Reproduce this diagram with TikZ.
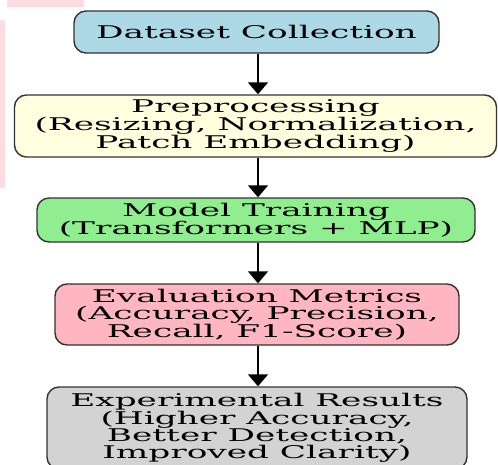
\documentclass[tikz,border=0pt]{standalone}
\usepackage{fontspec}
\usetikzlibrary{arrows.meta}
\newfontfamily\boxfont[FakeStretch=1.96]{DejaVu Serif}
\definecolor{bxblue}{HTML}{ADD8E6}
\definecolor{bxyellow}{HTML}{FFFFE0}
\definecolor{bxgreen}{HTML}{90EE90}
\definecolor{bxpink}{HTML}{FFB6C1}
\definecolor{bxgray}{HTML}{D3D3D3}
\definecolor{edgegray}{HTML}{333333}
\definecolor{smudge}{HTML}{FFDCE2}
\tikzset{
  stage/.style={draw=edgegray, line width=1.4pt, rounded corners=12pt,
    align=center, inner sep=0pt,
    font=\boxfont\fontsize{17.5}{16.8}\selectfont},
  flow/.style={line width=1.8pt, -{Triangle[width=20pt,length=12pt]}}
}
\begin{document}
\begin{tikzpicture}[x=1pt, y=-1pt]
  \useasboundingbox (0,0) rectangle (498,464);
  \fill[white] (0,0) rectangle (498,464);
  % faint pink smudges along the top-left edge
  \fill[smudge] (7,0) rectangle (84,7);
  \fill[smudge] (0,20) rectangle (5,188);

  \node[stage, fill=bxblue, minimum width=365pt, minimum height=42pt]
    (b1) at (256.5,32) {Dataset Collection};
  \node[stage, fill=bxyellow, minimum width=482pt, minimum height=62pt]
    (b2) at (255.5,126) {Preprocessing\\(Resizing, Normalization,\\Patch Embedding)};
  \node[stage, fill=bxgreen, minimum width=438pt, minimum height=44pt]
    (b3) at (256,220) {Model Training\\(Transformers + MLP)};
  \node[stage, fill=bxpink, minimum width=404pt, minimum height=61pt]
    (b4) at (257,314.5) {Evaluation Metrics\\(Accuracy, Precision,\\Recall, F1-Score)};
  \node[stage, fill=bxgray, minimum width=420pt, minimum height=82pt]
    (b5) at (257,428) {Experimental Results\\(Higher Accuracy,\\Better Detection,\\Improved Clarity)};

  \coordinate (ax) at (258,0);
  \draw[flow] (b1.south -| ax) -- (b2.north -| ax);
  \draw[flow] (b2.south -| ax) -- (b3.north -| ax);
  \draw[flow] (b3.south -| ax) -- (b4.north -| ax);
  \draw[flow] (b4.south -| ax) -- (b5.north -| ax);
\end{tikzpicture}
\end{document}
